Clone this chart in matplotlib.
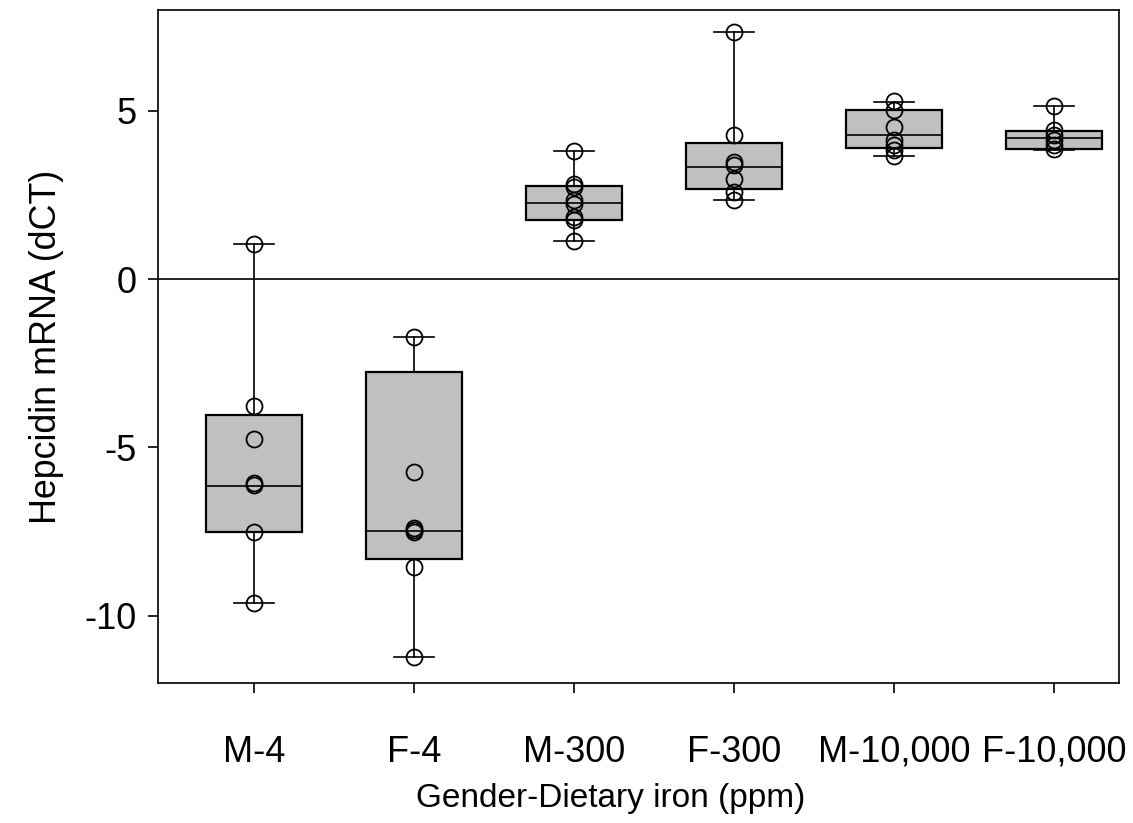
import numpy as np
import matplotlib
matplotlib.use('Agg')
import matplotlib.pyplot as plt

plt.rcParams['font.family'] = ['Liberation Sans', 'DejaVu Sans']
plt.rcParams['axes.unicode_minus'] = False

# Groups and raw values (dCT)
groups = ['M-4', 'F-4', 'M-300', 'F-300', 'M-10,000', 'F-10,000']
m4 = [1.04, -3.76, -4.75, -6.07, -6.12, -7.50, -9.61]
f4 = [-1.71, -5.74, -7.40, -7.45, -7.50, -8.54, -11.23]
m300 = [3.80, 2.82, 2.75, 2.35, 2.22, 1.85, 1.75, 1.15]
f300 = [7.34, 4.30, 3.48, 3.38, 2.99, 2.59, 2.35]
m10000 = [5.30, 5.02, 4.52, 4.13, 3.98, 3.85, 3.65]
f10000 = [5.15, 4.42, 4.30, 4.15, 4.00, 3.88]
values = [m4, f4, m300, f300, m10000, f10000]

# Box statistics as drawn (SigmaPlot percentiles)
q1 = [-7.52, -8.32, 1.77, 2.67, 3.90, 3.86]
med = [-6.15, -7.47, 2.25, 3.33, 4.28, 4.21]
q3 = [-4.04, -2.75, 2.76, 4.06, 5.04, 4.39]
wlo = [-9.61, -11.23, 1.15, 2.35, 3.65, 3.84]
whi = [1.04, -1.71, 3.80, 7.34, 5.28, 5.16]

stats = []
for i in range(len(groups)):
    stats.append({'q1': q1[i], 'med': med[i], 'q3': q3[i],
                  'whislo': wlo[i], 'whishi': whi[i], 'fliers': []})

fig = plt.figure(figsize=(11.33, 8.23), dpi=100)
ax = fig.add_axes([158 / 1133, 140 / 823, 961 / 1133, 673 / 823])

pos = np.arange(1, len(groups) + 1)
ax.axhline(0, color='black', lw=1.2, zorder=1)
ax.bxp(stats, positions=pos, widths=0.6, patch_artist=True, showfliers=False,
       capwidths=0.25,
       boxprops=dict(facecolor='#c0c0c0', edgecolor='black', lw=1.6),
       medianprops=dict(color='black', lw=1.2),
       whiskerprops=dict(color='black', lw=1.2),
       capprops=dict(color='black', lw=1.2), zorder=2)

for p, v in zip(pos, values):
    ax.plot([p] * len(v), v, 'o', ms=11.5, mfc='none', mec='black', mew=1.3, zorder=3)

ax.set_xlim(0.4, 6.406)
ax.set_ylim(-12, 8)
ax.set_yticks([-10, -5, 0, 5])
ax.set_xticks(pos)
ax.set_xticklabels(groups)
ax.tick_params(axis='both', direction='out', length=7.2, width=1.2)
ax.tick_params(axis='y', pad=8, labelsize=26)
ax.tick_params(axis='x', pad=30, labelsize=26)
for s in ax.spines.values():
    s.set_linewidth(1.2)

ax.set_ylabel('Hepcidin mRNA (dCT)', fontsize=25.8, labelpad=15)
ax.set_xlabel('Gender-Dietary iron (ppm)', fontsize=24)
ax.xaxis.set_label_coords(0.471, -0.148)

fig.savefig('out.png', dpi=100)
